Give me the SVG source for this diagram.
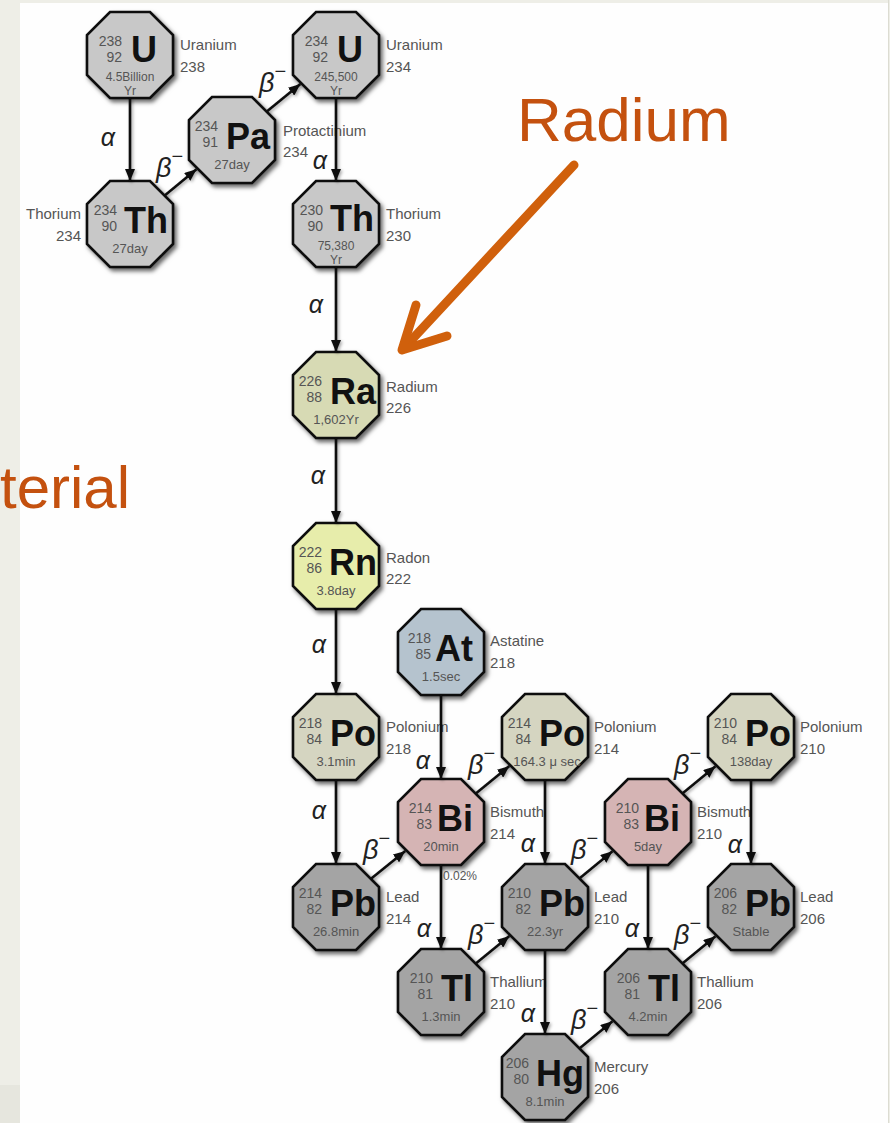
<svg xmlns="http://www.w3.org/2000/svg" width="890" height="1123" viewBox="0 0 890 1123">
<defs>
<style>
text{font-family:"Liberation Sans",Arial,sans-serif}
.oct{stroke:#111;stroke-width:2.6}
.gray{fill:#c8c8c8}.ra{fill:#d7dab4}.rn{fill:#e7edab}.at{fill:#b5c3ce}.po{fill:#d5d5c1}.bi{fill:#d5b4b4}.pb{fill:#a4a4a4}
.num{font-size:14px;fill:#555;text-anchor:end}
.sym{font-size:36px;font-weight:bold;fill:#111}
.hl{font-size:13px;fill:#555;text-anchor:middle}
.hs{font-size:12px}
.lbl{font-size:15px;fill:#555}
.le{text-anchor:end}
.a{font-size:25px;font-style:italic;fill:#222;text-anchor:middle}
.b{font-size:27px;font-style:italic;fill:#222}
.b tspan{font-size:20px;font-style:normal}
.con line{stroke:#111;stroke-width:2.6;marker-end:url(#ah)}
.big{font-size:62px;fill:#c4510f}
</style>
<path id="o" d="M-20,-43 H20 L43,-20 V20 L20,43 H-20 L-43,20 V-20 Z"/>
<filter id="sh" x="-20%" y="-20%" width="150%" height="150%"><feDropShadow dx="2.5" dy="3" stdDeviation="2.2" flood-color="#000" flood-opacity="0.6"/></filter>
<filter id="ls" x="-20%" y="-20%" width="150%" height="150%"><feDropShadow dx="1.5" dy="1.5" stdDeviation="1.5" flood-color="#000" flood-opacity="0.35"/></filter>
<marker id="ah" viewBox="0 0 12 10" refX="12" refY="5" markerWidth="12" markerHeight="10" markerUnits="userSpaceOnUse" orient="auto"><path d="M0,0 L12,5 L0,10 z" fill="#111"/></marker>
</defs>

<g id="background">
<rect x="0" y="0" width="890" height="1123" fill="#eeeee7"/>
<rect x="0" y="1085" width="20" height="38" fill="#e6e6de"/>
<rect x="20" y="3" width="868" height="1120" fill="#fefefe"/>
<line x1="888.5" y1="0" x2="888.5" y2="1123" stroke="#dcdcd2" stroke-width="1"/>
</g>

<g id="n-u238">
<use href="#o" x="130" y="55" class="oct gray" filter="url(#sh)"/>
<text class="num" x="122" y="46">238</text>
<text class="num" x="122" y="62">92</text>
<text class="sym" x="131" y="62">U</text>
<text class="hl hs" x="130" y="81">4.5Billion</text>
<text class="hl hs" x="130" y="95">Yr</text>
<text class="lbl" x="180" y="50">Uranium</text>
<text class="lbl" x="180" y="72">238</text>
</g>

<g id="n-th234">
<use href="#o" x="130" y="224" class="oct gray" filter="url(#sh)"/>
<text class="num" x="117" y="215">234</text>
<text class="num" x="117" y="231">90</text>
<text class="sym" x="124" y="233">Th</text>
<text class="hl" x="130" y="253">27day</text>
<text class="lbl le" x="81" y="219">Thorium</text>
<text class="lbl le" x="81" y="241">234</text>
</g>

<g id="n-pa234">
<use href="#o" x="232" y="140" class="oct gray" filter="url(#sh)"/>
<text class="num" x="218" y="131">234</text>
<text class="num" x="218" y="147">91</text>
<text class="sym" x="226" y="149">Pa</text>
<text class="hl" x="232" y="169">27day</text>
<text class="lbl" x="283" y="136">Protactinium</text>
<text class="lbl" x="283" y="157">234</text>
</g>

<g id="n-u234">
<use href="#o" x="336" y="55" class="oct gray" filter="url(#sh)"/>
<text class="num" x="328" y="46">234</text>
<text class="num" x="328" y="62">92</text>
<text class="sym" x="337" y="62">U</text>
<text class="hl hs" x="336" y="81">245,500</text>
<text class="hl hs" x="336" y="95">Yr</text>
<text class="lbl" x="386" y="50">Uranium</text>
<text class="lbl" x="386" y="72">234</text>
</g>

<g id="n-th230">
<use href="#o" x="336" y="224" class="oct gray" filter="url(#sh)"/>
<text class="num" x="323" y="215">230</text>
<text class="num" x="323" y="231">90</text>
<text class="sym" x="330" y="231">Th</text>
<text class="hl hs" x="336" y="250">75,380</text>
<text class="hl hs" x="336" y="264">Yr</text>
<text class="lbl" x="386" y="219">Thorium</text>
<text class="lbl" x="386" y="241">230</text>
</g>

<g id="n-ra226">
<use href="#o" x="336" y="395" class="oct ra" filter="url(#sh)"/>
<text class="num" x="322" y="386">226</text>
<text class="num" x="322" y="402">88</text>
<text class="sym" x="330" y="404">Ra</text>
<text class="hl" x="336" y="424">1,602Yr</text>
<text class="lbl" x="386" y="392">Radium</text>
<text class="lbl" x="386" y="413">226</text>
</g>

<g id="n-rn222">
<use href="#o" x="336" y="566" class="oct rn" filter="url(#sh)"/>
<text class="num" x="322" y="557">222</text>
<text class="num" x="322" y="573">86</text>
<text class="sym" x="329" y="575">Rn</text>
<text class="hl" x="336" y="595">3.8day</text>
<text class="lbl" x="386" y="563">Radon</text>
<text class="lbl" x="386" y="584">222</text>
</g>

<g id="n-at218">
<use href="#o" x="441" y="652" class="oct at" filter="url(#sh)"/>
<text class="num" x="431" y="643">218</text>
<text class="num" x="431" y="659">85</text>
<text class="sym" x="435" y="661">At</text>
<text class="hl" x="441" y="681">1.5sec</text>
<text class="lbl" x="490" y="646">Astatine</text>
<text class="lbl" x="490" y="668">218</text>
</g>

<g id="n-po218">
<use href="#o" x="336" y="737" class="oct po" filter="url(#sh)"/>
<text class="num" x="322" y="728">218</text>
<text class="num" x="322" y="744">84</text>
<text class="sym" x="330" y="746">Po</text>
<text class="hl" x="336" y="766">3.1min</text>
<text class="lbl" x="386" y="732">Polonium</text>
<text class="lbl" x="386" y="754">218</text>
</g>

<g id="n-po214">
<use href="#o" x="545" y="737" class="oct po" filter="url(#sh)"/>
<text class="num" x="531" y="728">214</text>
<text class="num" x="531" y="744">84</text>
<text class="sym" x="539" y="746">Po</text>
<text class="hl" x="547" y="766">164.3 μ sec</text>
<text class="lbl" x="594" y="732">Polonium</text>
<text class="lbl" x="594" y="754">214</text>
</g>

<g id="n-po210">
<use href="#o" x="751" y="737" class="oct po" filter="url(#sh)"/>
<text class="num" x="737" y="728">210</text>
<text class="num" x="737" y="744">84</text>
<text class="sym" x="745" y="746">Po</text>
<text class="hl" x="751" y="766">138day</text>
<text class="lbl" x="800" y="732">Polonium</text>
<text class="lbl" x="800" y="754">210</text>
</g>

<g id="n-bi214">
<use href="#o" x="441" y="822" class="oct bi" filter="url(#sh)"/>
<text class="num" x="432" y="813">214</text>
<text class="num" x="432" y="829">83</text>
<text class="sym" x="437" y="831">Bi</text>
<text class="hl" x="441" y="851">20min</text>
<text class="lbl" x="490" y="817">Bismuth</text>
<text class="lbl" x="490" y="839">214</text>
</g>

<g id="n-bi210">
<use href="#o" x="648" y="822" class="oct bi" filter="url(#sh)"/>
<text class="num" x="639" y="813">210</text>
<text class="num" x="639" y="829">83</text>
<text class="sym" x="644" y="831">Bi</text>
<text class="hl" x="648" y="851">5day</text>
<text class="lbl" x="697" y="817">Bismuth</text>
<text class="lbl" x="697" y="839">210</text>
</g>

<g id="n-pb214">
<use href="#o" x="336" y="907" class="oct pb" filter="url(#sh)"/>
<text class="num" x="322" y="898">214</text>
<text class="num" x="322" y="914">82</text>
<text class="sym" x="330" y="916">Pb</text>
<text class="hl" x="336" y="936">26.8min</text>
<text class="lbl" x="386" y="902">Lead</text>
<text class="lbl" x="386" y="924">214</text>
</g>

<g id="n-pb210">
<use href="#o" x="545" y="907" class="oct pb" filter="url(#sh)"/>
<text class="num" x="531" y="898">210</text>
<text class="num" x="531" y="914">82</text>
<text class="sym" x="539" y="916">Pb</text>
<text class="hl" x="545" y="936">22.3yr</text>
<text class="lbl" x="594" y="902">Lead</text>
<text class="lbl" x="594" y="924">210</text>
</g>

<g id="n-pb206">
<use href="#o" x="751" y="907" class="oct pb" filter="url(#sh)"/>
<text class="num" x="737" y="898">206</text>
<text class="num" x="737" y="914">82</text>
<text class="sym" x="745" y="916">Pb</text>
<text class="hl" x="751" y="936">Stable</text>
<text class="lbl" x="800" y="902">Lead</text>
<text class="lbl" x="800" y="924">206</text>
</g>

<g id="n-tl210">
<use href="#o" x="441" y="992" class="oct pb" filter="url(#sh)"/>
<text class="num" x="433" y="983">210</text>
<text class="num" x="433" y="999">81</text>
<text class="sym" x="441" y="1001">Tl</text>
<text class="hl" x="441" y="1021">1.3min</text>
<text class="lbl" x="490" y="987">Thallium</text>
<text class="lbl" x="490" y="1009">210</text>
</g>

<g id="n-tl206">
<use href="#o" x="648" y="992" class="oct pb" filter="url(#sh)"/>
<text class="num" x="640" y="983">206</text>
<text class="num" x="640" y="999">81</text>
<text class="sym" x="648" y="1001">Tl</text>
<text class="hl" x="648" y="1021">4.2min</text>
<text class="lbl" x="697" y="987">Thallium</text>
<text class="lbl" x="697" y="1009">206</text>
</g>

<g id="n-hg206">
<use href="#o" x="545" y="1077" class="oct pb" filter="url(#sh)"/>
<text class="num" x="529" y="1068">206</text>
<text class="num" x="529" y="1084">80</text>
<text class="sym" x="536" y="1086">Hg</text>
<text class="hl" x="545" y="1106">8.1min</text>
<text class="lbl" x="594" y="1072">Mercury</text>
<text class="lbl" x="594" y="1094">206</text>
</g>

<g id="connectors" class="con" filter="url(#ls)">
<line x1="130" y1="98" x2="130" y2="181"/>
<line x1="336" y1="98" x2="336" y2="181"/>
<line x1="336" y1="267" x2="336" y2="352"/>
<line x1="336" y1="438" x2="336" y2="523"/>
<line x1="336" y1="609" x2="336" y2="694"/>
<line x1="336" y1="780" x2="336" y2="864"/>
<line x1="441" y1="695" x2="441" y2="779"/>
<line x1="545" y1="780" x2="545" y2="864"/>
<line x1="441" y1="865" x2="441" y2="949"/>
<line x1="545" y1="950" x2="545" y2="1034"/>
<line x1="648" y1="865" x2="648" y2="949"/>
<line x1="751" y1="780" x2="751" y2="864"/>
<line x1="164.7" y1="195.4" x2="196.5" y2="169.3"/>
<line x1="266.8" y1="111.5" x2="300.4" y2="84.1"/>
<line x1="371" y1="878.7" x2="405.3" y2="850.9"/>
<line x1="475.8" y1="793.5" x2="509.4" y2="766.1"/>
<line x1="475.8" y1="963.5" x2="509.4" y2="936.1"/>
<line x1="682.7" y1="793.3" x2="715.5" y2="766.3"/>
<line x1="579.7" y1="878.3" x2="612.5" y2="851.3"/>
<line x1="579.7" y1="1048.3" x2="612.5" y2="1021.3"/>
<line x1="682.7" y1="963.3" x2="715.5" y2="936.3"/>
</g>

<g id="decay-labels">
<text class="a" x="108" y="146">α</text>
<text class="a" x="320" y="169">α</text>
<text class="a" x="316" y="313">α</text>
<text class="a" x="318" y="484">α</text>
<text class="a" x="319" y="653">α</text>
<text class="a" x="319" y="819">α</text>
<text class="a" x="423" y="769">α</text>
<text class="a" x="528" y="852">α</text>
<text class="a" x="424" y="937">α</text>
<text class="a" x="528" y="1022">α</text>
<text class="a" x="632" y="937">α</text>
<text class="a" x="735" y="853">α</text>
<text class="b" x="156" y="177">β<tspan dy="-14">−</tspan></text>
<text class="b" x="259" y="92">β<tspan dy="-14">−</tspan></text>
<text class="b" x="363" y="859">β<tspan dy="-14">−</tspan></text>
<text class="b" x="468" y="774">β<tspan dy="-14">−</tspan></text>
<text class="b" x="468" y="944">β<tspan dy="-14">−</tspan></text>
<text class="b" x="674" y="774">β<tspan dy="-14">−</tspan></text>
<text class="b" x="571" y="859">β<tspan dy="-14">−</tspan></text>
<text class="b" x="571" y="1029">β<tspan dy="-14">−</tspan></text>
<text class="b" x="674" y="944">β<tspan dy="-14">−</tspan></text>
<text class="lbl" x="443" y="880" style="font-size:12px">0.02%</text>
</g>

<g id="callout">
<text class="big" x="517" y="141">Radium</text>
<text class="big" x="0" y="508" style="font-size:60px">terial</text>
<g fill="none" stroke="#d0600c" stroke-width="9" stroke-linecap="round" stroke-linejoin="round">
<line x1="574" y1="165" x2="405" y2="347"/>
<polyline points="416,305 402,350 447,336"/>
</g>
</g>
</svg>
